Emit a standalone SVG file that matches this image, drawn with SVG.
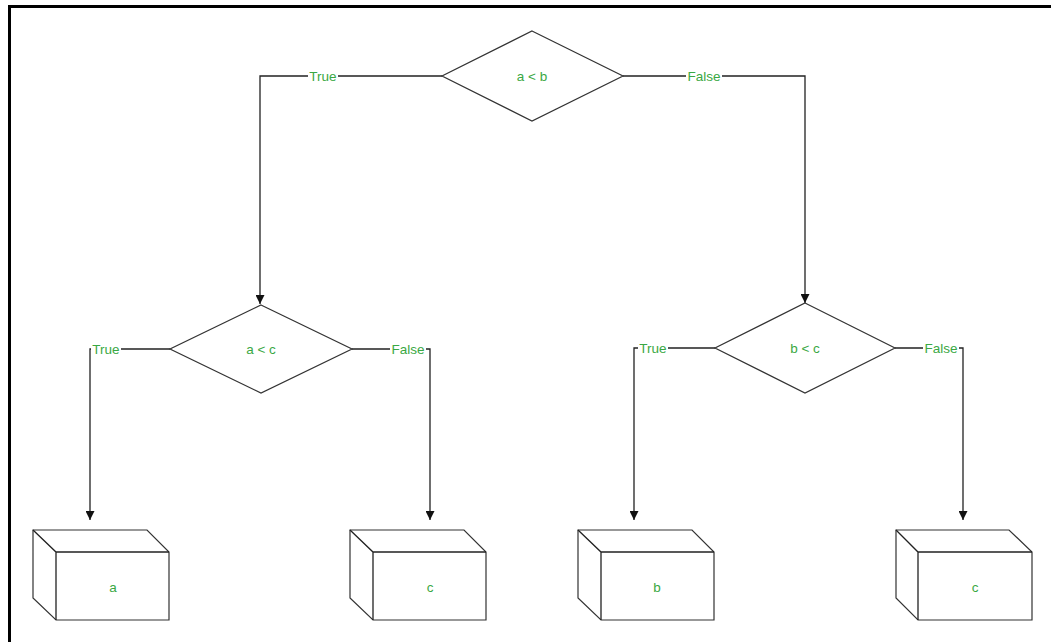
<svg xmlns="http://www.w3.org/2000/svg" width="1051" height="642" viewBox="0 0 1051 642">
  <defs>
    <marker id="arrow" viewBox="0 0 10 10" refX="10" refY="5" markerWidth="9" markerHeight="9" markerUnits="userSpaceOnUse" orient="auto">
      <path d="M0,0 L10,5 L0,10 Z" fill="#111"/>
    </marker>
    <style>
      .shape { fill: #fff; stroke: #333; stroke-width: 1.2; }
      .edge { fill: none; stroke: #222; stroke-width: 1.3; }
      .txt { font-family: "Liberation Sans", Arial, sans-serif; font-size: 13.5px; fill: #3aa843; text-anchor: middle; dominant-baseline: central; }
      .lblbg { fill: #fff; }
    </style>
  </defs>

  <rect x="0" y="0" width="1051" height="642" fill="#fff"/>
  <!-- outer frame -->
  <path d="M9.5,645 L9.5,6.5 L1055,6.5" fill="none" stroke="#000" stroke-width="3"/>

  <!-- connectors -->
  <g id="connectors">
    <path class="edge" d="M442,76 L260,76 L260,304" marker-end="url(#arrow)"/>
    <path class="edge" d="M623,76 L805,76 L805,303" marker-end="url(#arrow)"/>
    <path class="edge" d="M170,349 L90,349 L90,520" marker-end="url(#arrow)"/>
    <path class="edge" d="M352,349 L430,349 L430,520" marker-end="url(#arrow)"/>
    <path class="edge" d="M715,348 L634,348 L634,520" marker-end="url(#arrow)"/>
    <path class="edge" d="M895,348 L963,348 L963,520" marker-end="url(#arrow)"/>

    <rect class="lblbg" x="308" y="68" width="30" height="16"/>
    <text class="txt" x="323" y="76">True</text>
    <rect class="lblbg" x="686" y="68" width="36" height="16"/>
    <text class="txt" x="704" y="76">False</text>
    <rect class="lblbg" x="91" y="341" width="30" height="16"/>
    <text class="txt" x="106" y="349">True</text>
    <rect class="lblbg" x="390" y="341" width="36" height="16"/>
    <text class="txt" x="408" y="349">False</text>
    <rect class="lblbg" x="638" y="340" width="30" height="16"/>
    <text class="txt" x="653" y="348">True</text>
    <rect class="lblbg" x="923" y="340" width="36" height="16"/>
    <text class="txt" x="941" y="348">False</text>
  </g>

  <!-- decisions -->
  <g id="dec-ab">
    <polygon class="shape" points="532,31 623,76 532,121 442,76"/>
    <text class="txt" x="532" y="76">a &lt; b</text>
  </g>
  <g id="dec-ac">
    <polygon class="shape" points="261,305 352,349 261,393 170,349"/>
    <text class="txt" x="261" y="349">a &lt; c</text>
  </g>
  <g id="dec-bc">
    <polygon class="shape" points="805,303 895,348 805,393 715,348"/>
    <text class="txt" x="805" y="348">b &lt; c</text>
  </g>

  <!-- results (3D boxes) -->
  <g id="out-a">
    <path class="shape" d="M33,530 L147,530 L169,552 L169,620 L56,620 L33,598 Z"/>
    <path class="edge" d="M33,530 L56,552 L169,552 M56,552 L56,620" stroke="#333" stroke-width="1.2"/>
    <text class="txt" x="113" y="587">a</text>
  </g>
  <g id="out-c1">
    <path class="shape" d="M350,530 L464,530 L486,552 L486,620 L373,620 L350,598 Z"/>
    <path class="edge" d="M350,530 L373,552 L486,552 M373,552 L373,620" stroke="#333" stroke-width="1.2"/>
    <text class="txt" x="430" y="587">c</text>
  </g>
  <g id="out-b">
    <path class="shape" d="M578,530 L692,530 L714,552 L714,620 L601,620 L578,598 Z"/>
    <path class="edge" d="M578,530 L601,552 L714,552 M601,552 L601,620" stroke="#333" stroke-width="1.2"/>
    <text class="txt" x="657" y="587">b</text>
  </g>
  <g id="out-c2">
    <path class="shape" d="M896,530 L1009,530 L1032,552 L1032,620 L918,620 L896,598 Z"/>
    <path class="edge" d="M896,530 L918,552 L1032,552 M918,552 L918,620" stroke="#333" stroke-width="1.2"/>
    <text class="txt" x="975" y="587">c</text>
  </g>
</svg>
